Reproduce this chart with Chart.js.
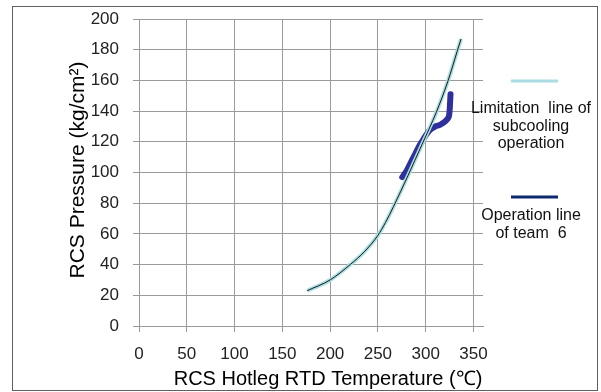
<!DOCTYPE html>
<html>
<head>
<meta charset="utf-8">
<script src="https://cdn.jsdelivr.net/npm/chart.js@4/dist/chart.umd.min.js"></script>
<style>
  body { margin: 0; background: #fff; }
  canvas { display: block; }
</style>
</head>
<body>
<canvas id="myChart" width="601" height="392"></canvas>
<script>
// limitation line of subcooling operation
const limitTemp = [176, 200, 221, 236, 250, 258, 266.5, 281.5, 296, 304, 311, 323, 333, 337];
const limitPress = [23, 30, 40, 48.5, 59, 67.5, 78, 98, 118, 129, 139, 159, 179, 187];

// operation line of team 6 (the blue cluster)
const opTemp = [275.5, 280, 284, 289, 293, 297, 301, 305, 310, 315, 320, 324, 325, 325.5, 326];
const opPress = [97, 101, 106, 112, 117, 121, 125, 128, 130, 131, 133, 136, 140, 145, 151];

const xTicks = [0, 50, 100, 150, 200, 250, 300, 350];
const yTicks = [0, 20, 40, 60, 80, 100, 120, 140, 160, 180, 200];

const xTitle = 'RCS Hotleg RTD Temperature (℃)';
const yTitle = 'RCS Pressure (kg/cm²)';
const legendLabels = [
  ['Limitation  line of', 'subcooling', 'operation'],
  ['Operation line', 'of team  6']
];
const legendColors = ['#a9dde1', '#0d2a6e'];

const toPoints = (xs, ys) => xs.map((x, i) => ({ x: x, y: ys[i] }));

const fontName = '"Liberation Sans", Arial, sans-serif';

const extras = {
  id: 'extras',
  afterDraw(chart) {
    const ctx = chart.ctx;
    ctx.save();
    // outer frame
    ctx.strokeStyle = '#606060';
    ctx.lineWidth = 1;
    ctx.strokeRect(12.5, 6.5, 585, 384);

    // axis titles
    ctx.fillStyle = '#000';
    ctx.textAlign = 'center';
    ctx.textBaseline = 'alphabetic';
    ctx.font = '20px ' + fontName;
    ctx.fillText(xTitle, 328, 385);
    ctx.save();
    ctx.font = '21px ' + fontName;
    ctx.translate(84, 170);
    ctx.rotate(-Math.PI / 2);
    ctx.fillText(yTitle, 0, 0);
    ctx.restore();

    // legend
    ctx.font = '16px ' + fontName;
    ctx.fillStyle = '#111';
    const lineY = [81, 197];
    const textY = [113, 220];
    legendLabels.forEach((lines, i) => {
      ctx.strokeStyle = legendColors[i];
      ctx.lineWidth = 3;
      ctx.beginPath();
      ctx.moveTo(511, lineY[i]);
      ctx.lineTo(558, lineY[i]);
      ctx.stroke();
      lines.forEach((t, j) => {
        ctx.fillText(t, 531, textY[i] + j * 17.5);
      });
    });
    ctx.restore();
  }
};

new Chart('myChart', {
  type: 'scatter',
  data: {
    datasets: [
      {
        label: 'Operation line of team 6',
        data: toPoints(opTemp, opPress),
        showLine: true,
        borderColor: '#2f309e',
        borderWidth: 6,
        borderCapStyle: 'round',
        borderJoinStyle: 'round',
        tension: 0.3,
        pointRadius: 0,
        order: 3
      },
      {
        label: 'Limitation line of subcooling operation',
        data: toPoints(limitTemp, limitPress),
        showLine: true,
        borderColor: '#a9dde1',
        borderWidth: 4,
        cubicInterpolationMode: 'monotone',
        pointRadius: 0,
        order: 2
      },
      {
        label: 'trend',
        data: toPoints(limitTemp, limitPress),
        showLine: true,
        borderColor: '#1a1a1a',
        borderWidth: 1,
        cubicInterpolationMode: 'monotone',
        pointRadius: 0,
        order: 1
      }
    ]
  },
  options: {
    responsive: false,
    animation: false,
    layout: { padding: { top: 19, right: 118, bottom: 0, left: 0 } },
    plugins: {
      legend: { display: false },
      tooltip: { enabled: false }
    },
    scales: {
      x: {
        type: 'linear',
        min: 0,
        max: 360,
        afterBuildTicks: s => { s.ticks = xTicks.map(v => ({ value: v })); },
        afterFit: s => { s.height = 66; },
        grid: { color: '#9a9a9a', tickLength: 6, tickColor: '#9a9a9a' },
        border: { color: '#9a9a9a' },
        ticks: { color: '#222', padding: 12, font: { size: 17, family: fontName } }
      },
      y: {
        min: 0,
        max: 200,
        afterBuildTicks: s => { s.ticks = yTicks.map(v => ({ value: v })); },
        afterFit: s => { s.width = 139; s.paddingTop = 10; s.paddingBottom = 0; },
        grid: { color: '#9a9a9a', tickLength: 6, tickColor: '#9a9a9a' },
        border: { color: '#9a9a9a' },
        ticks: { color: '#222', padding: 14, font: { size: 17, family: fontName } }
      }
    }
  },
  plugins: [extras]
});
</script>
</body>
</html>
